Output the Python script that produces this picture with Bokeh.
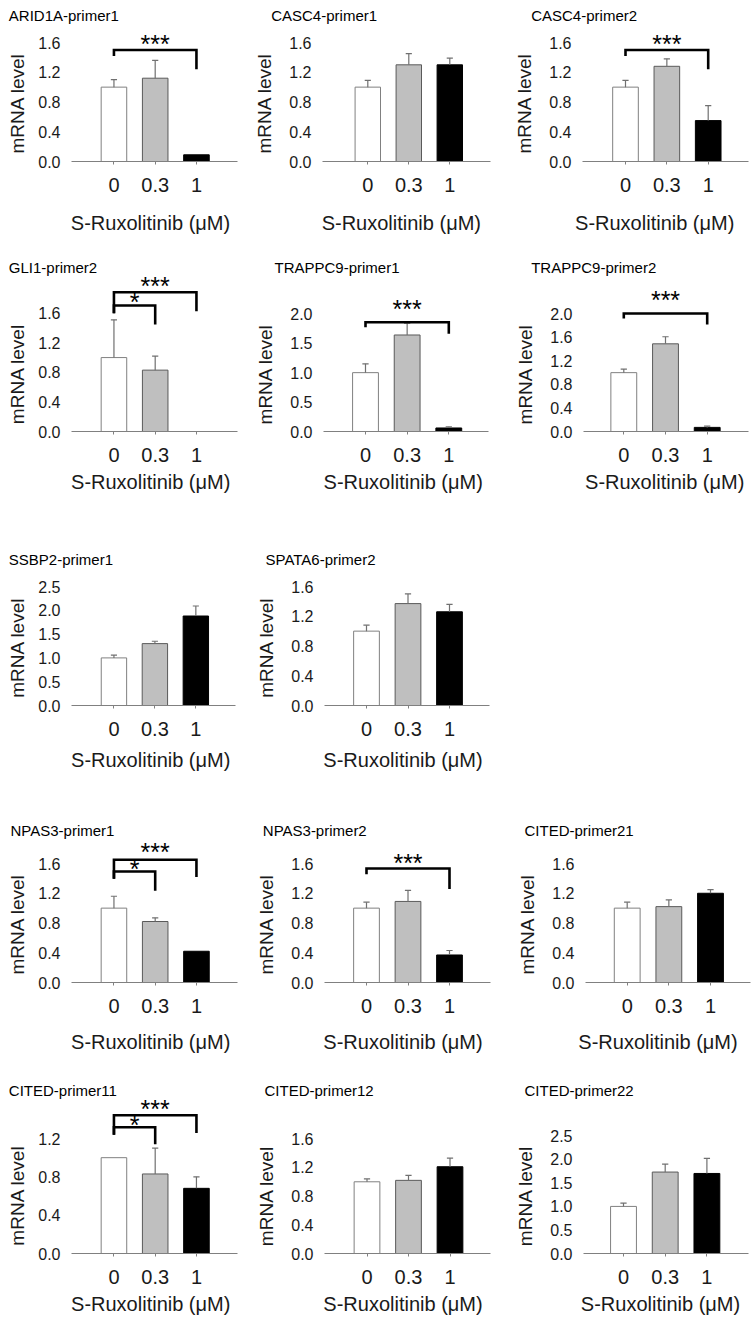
from bokeh.plotting import figure
from bokeh.models import Title, FixedTicker, PrintfTickFormatter, Range1d
from bokeh.layouts import column, row
from bokeh.embed import file_html
from bokeh.resources import INLINE
from bokeh.core.properties import value

# ---------------- data ----------------
categories = ["0", "0.3", "1"]
x_axis_title = "S-Ruxolitinib (μM)"
y_axis_title = "mRNA  level"

titles = ["ARID1A-primer1", "CASC4-primer1", "CASC4-primer2",
          "GLI1-primer2", "TRAPPC9-primer1", "TRAPPC9-primer2",
          "SSBP2-primer1", "SPATA6-primer2",
          "NPAS3-primer1", "NPAS3-primer2", "CITED-primer21",
          "CITED-primer11", "CITED-primer12", "CITED-primer22"]

arid1a_p1 = [1.00, 1.12, 0.09]
arid1a_p1_err = [0.10, 0.24, 0.00]
casc4_p1 = [1.00, 1.30, 1.30]
casc4_p1_err = [0.09, 0.15, 0.09]
casc4_p2 = [1.00, 1.28, 0.55]
casc4_p2_err = [0.09, 0.10, 0.20]
gli1_p2 = [1.00, 0.83, 0.00]
gli1_p2_err = [0.51, 0.19, 0.00]
trappc9_p1 = [1.00, 1.64, 0.06]
trappc9_p1_err = [0.15, 0.20, 0.02]
trappc9_p2 = [1.00, 1.49, 0.07]
trappc9_p2_err = [0.06, 0.12, 0.02]
ssbp2_p1 = [1.00, 1.30, 1.88]
ssbp2_p1_err = [0.06, 0.05, 0.21]
spata6_p2 = [1.00, 1.37, 1.26]
spata6_p2_err = [0.08, 0.13, 0.10]
npas3_p1 = [1.00, 0.82, 0.42]
npas3_p1_err = [0.16, 0.05, 0.00]
npas3_p2 = [1.00, 1.09, 0.37]
npas3_p2_err = [0.08, 0.15, 0.06]
cited_p21 = [1.00, 1.02, 1.20]
cited_p21_err = [0.08, 0.09, 0.05]
cited_p11 = [1.00, 0.83, 0.68]
cited_p11_err = [0.00, 0.27, 0.12]
cited_p12 = [1.00, 1.02, 1.21]
cited_p12_err = [0.04, 0.07, 0.12]
cited_p22 = [1.00, 1.73, 1.70]
cited_p22_err = [0.07, 0.17, 0.32]

ticks_16 = [0.0, 0.4, 0.8, 1.2, 1.6]
ticks_20_05 = [0.0, 0.5, 1.0, 1.5, 2.0]
ticks_20_04 = [0.0, 0.4, 0.8, 1.2, 1.6, 2.0]
ticks_25 = [0.0, 0.5, 1.0, 1.5, 2.0, 2.5]
ticks_12 = [0.0, 0.4, 0.8, 1.2]

# significance comparisons: (from category, to category, label)
sig_one = [(0, 2, "***")]
sig_two = [(0, 1, "*"), (0, 2, "***")]

series = [
    (arid1a_p1, arid1a_p1_err, ticks_16, sig_one),
    (casc4_p1, casc4_p1_err, ticks_16, []),
    (casc4_p2, casc4_p2_err, ticks_16, sig_one),
    (gli1_p2, gli1_p2_err, ticks_16, sig_two),
    (trappc9_p1, trappc9_p1_err, ticks_20_05, sig_one),
    (trappc9_p2, trappc9_p2_err, ticks_20_04, sig_one),
    (ssbp2_p1, ssbp2_p1_err, ticks_25, []),
    (spata6_p2, spata6_p2_err, ticks_16, []),
    (npas3_p1, npas3_p1_err, ticks_16, sig_two),
    (npas3_p2, npas3_p2_err, ticks_16, sig_one),
    (cited_p21, cited_p21_err, ticks_16, []),
    (cited_p11, cited_p11_err, ticks_12, sig_two),
    (cited_p12, cited_p12_err, ticks_16, []),
    (cited_p22, cited_p22_err, ticks_25, []),
]

# ---------------- layout / style ----------------
FONT = "Liberation Sans"
COLS = [(0, 240), (240, 493), (493, 755)]
ROWS = [(0, 255), (255, 533), (533, 812), (812, 1068), (1068, 1318)]
XLAB_STANDOFF = [31, 9, 17, 26, 8]
YLAB_STANDOFF = [12, 20, 20]

# per panel: cell, title x, title baseline, axis y, top-tick y, c0, spacing, frame x, x-label centre x
specs = [
    dict(cell=(0, 0), tx=8.3, tb=20.7, ay=160.7, ty=41.7, c0=112.7, d=41.5, fx=(70, 237), xl=149.0),
    dict(cell=(1, 0), tx=271.7, tb=20.7, ay=160.7, ty=41.7, c0=367.3, d=41.0, fx=(321.7, 490), xl=400.8),
    dict(cell=(2, 0), tx=531.7, tb=20.7, ay=160.7, ty=41.7, c0=625.0, d=41.35, fx=(581.7, 748), xl=654.2),
    dict(cell=(0, 1), tx=8.3, tb=273.0, ay=431.0, ty=312.7, c0=112.7, d=41.5, fx=(70, 236.7), xl=149.2),
    dict(cell=(1, 1), tx=275.0, tb=273.0, ay=431.0, ty=313.3, c0=365.0, d=41.65, fx=(323.3, 488.3), xl=402.7),
    dict(cell=(2, 1), tx=531.7, tb=273.0, ay=431.0, ty=313.3, c0=623.3, d=41.7, fx=(583.3, 748.3), xl=664.2),
    dict(cell=(0, 2), tx=8.3, tb=565.0, ay=705.0, ty=586.0, c0=112.7, d=41.2, fx=(70, 235), xl=149.2),
    dict(cell=(1, 2), tx=266.0, tb=565.0, ay=705.0, ty=586.0, c0=366.0, d=41.5, fx=(324, 489.3), xl=402.5),
    dict(cell=(0, 3), tx=10.0, tb=836.0, ay=981.7, ty=862.7, c0=112.7, d=41.5, fx=(70, 237), xl=149.2),
    dict(cell=(1, 3), tx=263.3, tb=836.0, ay=981.7, ty=862.7, c0=366.0, d=41.5, fx=(324, 490), xl=402.5),
    dict(cell=(2, 3), tx=525.0, tb=836.0, ay=981.7, ty=862.7, c0=626.7, d=41.65, fx=(585, 750), xl=657.5),
    dict(cell=(0, 4), tx=8.3, tb=1090.7, ay=1252.7, ty=1134.0, c0=112.7, d=41.5, fx=(70, 237), xl=149.2),
    dict(cell=(1, 4), tx=265.0, tb=1091.0, ay=1252.7, ty=1135.0, c0=366.5, d=41.5, fx=(324, 490), xl=402.5),
    dict(cell=(2, 4), tx=525.0, tb=1095.0, ay=1252.7, ty=1135.0, c0=623.0, d=41.7, fx=(583, 748), xl=660.0),
]

# bracket geometry (value units): horizontal, left-leg bottom, right-leg bottom, star centre
bracket_geom = {
    0: [(1.50, 1.42, 1.24, 1.623)],
    2: [(1.50, 1.42, 1.24, 1.623)],
    3: [(1.704, 1.60, 1.447, 1.795), (1.884, 1.60, 1.627, 2.006)],
    4: [(1.857, 1.77, 1.66, 2.14)],
    5: [(2.005, 1.92, 1.818, 2.29)],
    8: [(1.492, 1.394, 1.233, 1.569), (1.65, 1.394, 1.42, 1.794)],
    9: [(1.533, 1.457, 1.256, 1.646)],
    11: [(1.318, 1.24, 1.14, 1.375), (1.443, 1.24, 1.258, 1.537)],
}

BAR_FILL = ["#ffffff", "#bfbfbf", "#000000"]
BAR_LINE = ["#808080", "#5a5a5a", "#000000"]
STAR_FS = 25
STAR_SHIFT = 3.0    # px between text anchor and visible asterisk centre
TITLE_GAP = 2.5     # px between title baseline and frame top
TITLE_FS = 15
XLAB_FS = 20
XLAB_HALF = 0.5 * 7.965 * XLAB_FS      # half text width (Arial metrics)
YLAB_FS = 19
YLAB_HALF = 0.5 * 5.556 * YLAB_FS


def make_panel(i):
    sp = specs[i]
    mean, err, yticks, sigs = series[i]
    col, rw = sp["cell"]
    cx0, cx1 = COLS[col]
    ry0, ry1 = ROWS[rw]
    W, H = cx1 - cx0, ry1 - ry0
    mbl = int(round(sp["fx"][0] - cx0))
    mbr = int(round(cx1 - sp["fx"][1]))
    mbb = int(round(ry1 - sp["ay"]))
    mbt = int(round(sp["tb"] + TITLE_GAP - ry0))
    fl = cx0 + mbl
    fr = cx1 - mbr
    fb = ry1 - mbb
    ft = ry0 + mbt
    scale = (sp["ay"] - sp["ty"]) / yticks[-1]
    c0, d = sp["c0"], sp["d"]
    x0 = (fl - c0) / d
    x1 = (fr - c0) / d
    y1 = (fb - ft) / scale

    p = figure(width=W, height=H, x_range=Range1d(x0, x1), y_range=Range1d(0, y1),
               output_backend="svg", toolbar_location=None, title=None,
               min_border_left=mbl, min_border_right=mbr, min_border_top=mbt,
               min_border_bottom=mbb)
    p.outline_line_color = None
    p.xgrid.visible = False
    p.ygrid.visible = False
    p.background_fill_color = "white"
    p.border_fill_color = "white"

    # y axis
    ya = p.yaxis[0]
    ya.ticker = FixedTicker(ticks=yticks)
    ya.formatter = PrintfTickFormatter(format="%.1f")
    ya.axis_line_color = None
    ya.major_tick_line_color = None
    ya.minor_tick_line_color = None
    ya.major_tick_out = 0
    ya.major_tick_in = 0
    ya.major_label_standoff = 11
    ya.major_label_text_font = FONT
    ya.major_label_text_font_size = "16px"
    ya.major_label_text_color = "#1a1a1a"

    # x axis
    xa = p.xaxis[0]
    xa.ticker = FixedTicker(ticks=[0, 1, 2])
    xa.major_label_overrides = {k: c for k, c in enumerate(categories)}
    xa.axis_line_color = "#808080"
    xa.axis_line_width = 1
    xa.major_tick_line_color = "#808080"
    xa.major_tick_out = 3
    xa.major_tick_in = 0
    xa.minor_tick_line_color = None
    xa.major_label_standoff = 13
    xa.major_label_text_font = FONT
    xa.major_label_text_font_size = "20px"
    xa.major_label_text_color = "#1a1a1a"

    # bars
    idx = [k for k in range(3) if mean[k] > 0]
    p.vbar(x=idx, top=[mean[k] for k in idx], bottom=0, width=0.62,
           fill_color=[BAR_FILL[k] for k in idx], line_color=[BAR_LINE[k] for k in idx],
           line_width=1)

    # error bars (upper only)
    ek = [k for k in range(3) if err[k] > 0]
    if ek:
        p.segment(x0=ek, y0=[mean[k] for k in ek], x1=ek, y1=[mean[k] + err[k] for k in ek],
                  line_color="#707070", line_width=1.2)
        p.segment(x0=[k - 0.075 for k in ek], y0=[mean[k] + err[k] for k in ek],
                  x1=[k + 0.075 for k in ek], y1=[mean[k] + err[k] for k in ek],
                  line_color="#707070", line_width=1.2)

    # significance brackets
    geom = bracket_geom.get(i, [])
    for (a, b, lab), (h, lb, rb, sc) in zip(sigs, geom):
        p.multi_line(xs=[[a, a, b, b]], ys=[[lb, h, h, rb]], line_color="black",
                     line_width=2.6, line_join="miter", line_cap="butt")
        p.text(x=[(a + b) / 2], y=[sc - STAR_SHIFT / scale], text=[lab], text_font=value(FONT),
               text_font_size=f"{STAR_FS}px", text_align="center",
               text_baseline="alphabetic", text_color="black")

    # panel title
    p.add_layout(Title(text=titles[i], align="left", vertical_align="bottom",
                       offset=sp["tx"] - fl - 1, standoff=0, text_font=FONT,
                       text_font_size=f"{TITLE_FS}px", text_font_style="normal",
                       text_color="black"), "above")
    # y label (text starts at bottom of frame + offset)
    yc = (sp["ay"] + sp["ty"]) / 2 - 1
    p.add_layout(Title(text=y_axis_title, align="left", vertical_align="top",
                       offset=fb - (yc + YLAB_HALF), standoff=YLAB_STANDOFF[col], text_font=FONT,
                       text_font_size=f"{YLAB_FS}px", text_font_style="normal",
                       text_color="#1a1a1a"), "left")
    # x label
    p.add_layout(Title(text=x_axis_title, align="left", vertical_align="bottom",
                       offset=(sp["xl"] - XLAB_HALF) - fl, standoff=XLAB_STANDOFF[rw],
                       text_font=FONT, text_font_size=f"{XLAB_FS}px", text_font_style="normal",
                       text_color="#1a1a1a"), "below")
    return p


panels = [make_panel(i) for i in range(len(specs))]
layout = column(
    row(panels[0], panels[1], panels[2]),
    row(panels[3], panels[4], panels[5]),
    row(panels[6], panels[7]),
    row(panels[8], panels[9], panels[10]),
    row(panels[11], panels[12], panels[13]),
)

open("out.html", "w").write(file_html(layout, INLINE))
